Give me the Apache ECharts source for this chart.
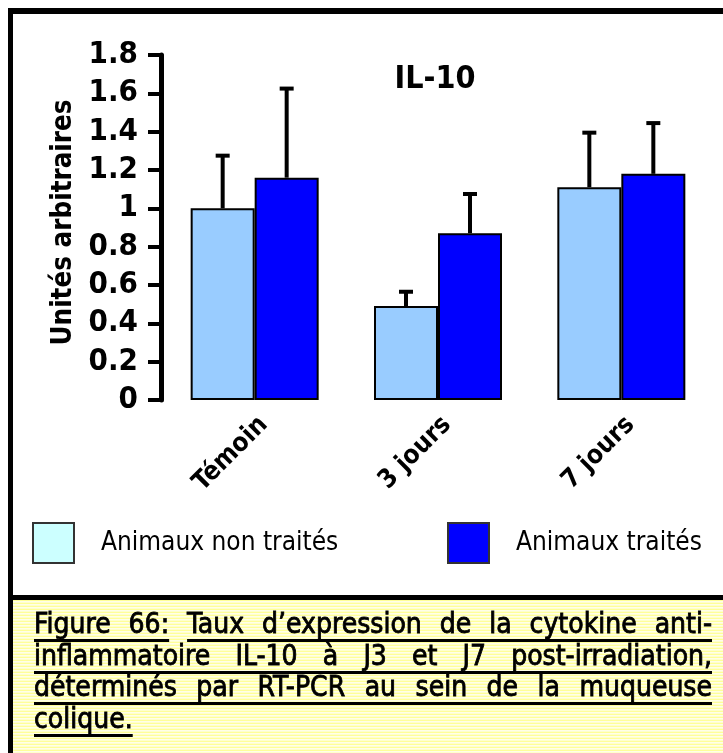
<!DOCTYPE html>
<html>
<head>
<meta charset="utf-8">
<script src="https://cdn.jsdelivr.net/npm/echarts@6/dist/echarts.min.js"></script>
<style>
  html, body { margin: 0; padding: 0; background: #fff; }
  #chart { width: 723px; height: 753px; }
</style>
</head>
<body>
<div id="chart"></div>
<script>
// ---- data ----
const categories = ['Témoin', '3 jours', '7 jours'];
const seriesNames = ['Animaux non traités', 'Animaux traités'];
const untreated = [1.00, 0.49, 1.11];
const untreatedErr = [0.28, 0.08, 0.29];
const treated = [1.16, 0.87, 1.18];
const treatedErr = [0.47, 0.21, 0.27];
const yMin = 0, yMax = 1.8, yStep = 0.2;
const chartTitle = 'IL-10';
const yAxisTitle = 'Unités arbitraires';
// each caption line is a list of underlined runs
const captionLines = [
  ['Figure 66:', 'Taux d’expression de la cytokine anti-'],
  ['inflammatoire IL-10 à J3 et J7 post-irradiation,'],
  ['déterminés par RT-PCR au sein de la muqueuse'],
  ['colique.']
];

// ---- styling ----
const FONT = '"DejaVu Sans Condensed", "DejaVu Sans", sans-serif';
const BAR_WIDTH = 64;
const colLight = '#99CCFF';
const colDark = '#0000FF';
const legendLight = '#CCFFFF';

// error bars drawn above each bar (side -1 = left bar, +1 = right bar)
function errorBars(values, errs, side) {
  return {
    type: 'custom',
    silent: true,
    z: 1,
    encode: { x: 0, y: [1, 2] },
    data: values.map((v, i) => [i, v, v + errs[i]]),
    renderItem: (params, api) => {
      const i = api.value(0);
      const base = api.coord([i, api.value(1)]);
      const top = api.coord([i, api.value(2)]);
      const x = base[0] + side * BAR_WIDTH / 2;
      return {
        type: 'group',
        children: [
          { type: 'line', shape: { x1: x, y1: base[1], x2: x, y2: top[1] },
            style: { stroke: '#000', lineWidth: 4 } },
          { type: 'rect', shape: { x: x - 7, y: top[1] - 1, width: 14, height: 4 },
            style: { fill: '#000' } }
        ]
      };
    }
  };
}

// caption background stripes
function stripePattern() {
  const c = document.createElement('canvas');
  c.width = 4; c.height = 3;
  const g = c.getContext('2d');
  const rows = ['#FFFF99', '#FFFFE8', '#FFFFCC'];
  rows.forEach((col, r) => { g.fillStyle = col; g.fillRect(0, r, 4, 1); });
  return c;
}

// justified, underlined caption text
const CAP_SIZE = 28;
const capFont = CAP_SIZE + 'px ' + FONT;
const CAP_LEFT = 34, CAP_RIGHT = 712, CAP_FIRST_UL = 640, CAP_LINE_H = 31.7;
const measure = document.createElement('canvas').getContext('2d');
measure.font = capFont;
const captionGraphics = [];
captionLines.forEach((runs, li) => {
  const runWords = runs.map(r => r.split(' '));
  const allWords = [].concat(...runWords);
  const widths = allWords.map(w => measure.measureText(w).width);
  const total = widths.reduce((a, b) => a + b, 0);
  const justify = li < captionLines.length - 1;
  const gap = justify ? (CAP_RIGHT - CAP_LEFT - total) / (allWords.length - 1)
                      : measure.measureText(' ').width;
  const ul = Math.round(CAP_FIRST_UL + li * CAP_LINE_H);
  let x = CAP_LEFT, k = 0;
  runWords.forEach(words => {
    const start = x;
    let end = x;
    words.forEach(w => {
      captionGraphics.push({
        type: 'text', x: x, y: ul - 14,
        style: { text: w, font: capFont, fill: '#000', stroke: '#000', lineWidth: 0.8,
                 verticalAlign: 'middle' }
      });
      end = x + widths[k];
      x += widths[k] + gap;
      k++;
    });
    captionGraphics.push({
      type: 'rect', shape: { x: start, y: ul - 1, width: end - start, height: 3 },
      style: { fill: '#000' }
    });
  });
});

const legendText = { fontFamily: FONT, fontSize: 26, color: '#000', padding: [0, 0, 0, 22] };

const chart = echarts.init(document.getElementById('chart'), null, { renderer: 'canvas' });
chart.setOption({
  backgroundColor: '#fff',
  animation: false,
  title: {
    text: chartTitle,
    left: 430, top: 59, textAlign: 'center',
    textStyle: { fontFamily: FONT, fontWeight: 'bold', fontSize: 32, color: '#000' }
  },
  legend: [
    {
      left: 32, top: 522, padding: 0, itemWidth: 41, itemHeight: 40, icon: 'rect',
      data: [{ name: seriesNames[0], itemStyle: { color: legendLight, borderColor: '#333', borderWidth: 2 } }],
      textStyle: legendText
    },
    {
      left: 447, top: 522, padding: 0, itemWidth: 41, itemHeight: 40, icon: 'rect',
      data: [{ name: seriesNames[1], itemStyle: { color: colDark, borderColor: '#333', borderWidth: 2 } }],
      textStyle: legendText
    }
  ],
  grid: { left: 163, right: 10, top: 55, bottom: 353, containLabel: false },
  xAxis: {
    type: 'category',
    data: categories,
    axisLine: { show: false },
    axisTick: { show: false },
    axisLabel: {
      rotate: 45, margin: 30, interval: 0, padding: [0, -13, 0, 0],
      fontFamily: FONT, fontWeight: 'bold', fontSize: 26, color: '#000'
    }
  },
  yAxis: {
    type: 'value',
    min: yMin, max: yMax, interval: yStep,
    offset: 2,
    splitLine: { show: false },
    axisLine: { show: true, lineStyle: { color: '#000', width: 5 } },
    axisTick: { show: true, length: 13, lineStyle: { color: '#000', width: 4 } },
    axisLabel: {
      margin: 23, fontFamily: FONT, fontWeight: 'bold', fontSize: 31, color: '#000'
    },
    name: yAxisTitle,
    nameLocation: 'middle',
    nameGap: 75,
    nameTextStyle: { fontFamily: FONT, fontWeight: 'bold', fontSize: 27.5, color: '#000', padding: [0, 0, 0, 10] }
  },
  series: [
    {
      name: seriesNames[0], type: 'bar', data: untreated,
      barWidth: BAR_WIDTH, barGap: '0%', z: 2,
      itemStyle: { color: colLight, borderColor: '#000', borderWidth: 2 }
    },
    {
      name: seriesNames[1], type: 'bar', data: treated,
      barWidth: BAR_WIDTH, barGap: '0%', z: 2,
      itemStyle: { color: colDark, borderColor: '#000', borderWidth: 2 }
    },
    errorBars(untreated, untreatedErr, -1),
    errorBars(treated, treatedErr, 1)
  ],
  graphic: [
    // caption panel
    { type: 'rect', z: -1, shape: { x: 13, y: 600, width: 710, height: 153 },
      style: { fill: { image: stripePattern(), repeat: 'repeat' } } },
    // frame
    { type: 'rect', shape: { x: 8, y: 8, width: 715, height: 6 }, style: { fill: '#000' } },
    { type: 'rect', shape: { x: 8, y: 8, width: 5, height: 745 }, style: { fill: '#000' } },
    { type: 'rect', shape: { x: 8, y: 595, width: 715, height: 5 }, style: { fill: '#000' } },
    { type: 'group', children: captionGraphics }
  ]
});
</script>
</body>
</html>
